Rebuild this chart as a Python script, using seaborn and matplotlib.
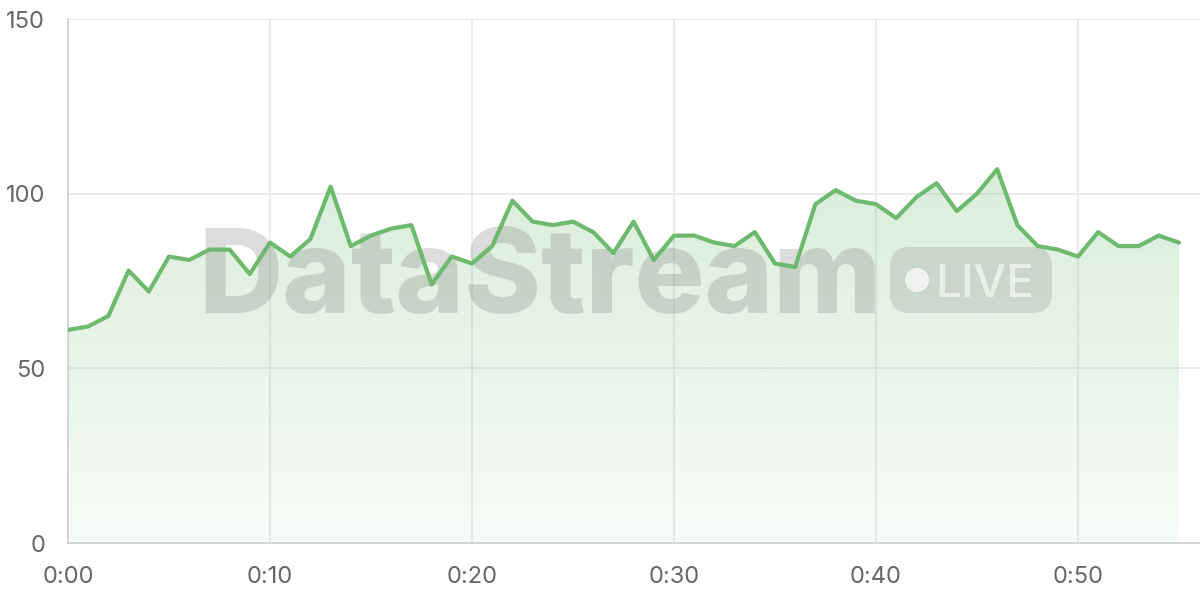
import numpy as np
import pandas as pd
import matplotlib
matplotlib.use("Agg")
import matplotlib.pyplot as plt
import matplotlib.transforms as mtransforms
from matplotlib.patches import FancyBboxPatch, Circle
from matplotlib.colors import to_rgb
import seaborn as sns

# ---------------------------------------------------------------------------
# Data
# ---------------------------------------------------------------------------
minutes = list(range(56))
values = [
    61, 62, 65, 78, 72, 82, 81, 84, 84, 77,
    86, 82, 87, 102, 85, 88, 90, 91, 74, 82,
    80, 85, 98, 92, 91, 92, 89, 83, 92, 81,
    88, 88, 86, 85, 89, 80, 79, 97, 101, 98,
    97, 93, 99, 103, 95, 100, 107, 91, 85, 84,
    82, 89, 85, 85, 88, 86,
]
x_ticks = [0, 10, 20, 30, 40, 50]
x_tick_labels = ["0:00", "0:10", "0:20", "0:30", "0:40", "0:50"]
y_ticks = [0, 50, 100, 150]

LINE = "#6dba6f"
GRID = "#e8e8e8"
AXIS = "#d0d0d0"
TEXT = "#666666"

df = pd.DataFrame({"minute": minutes, "value": values})

sns.set_theme(style="white")
plt.rcParams["font.family"] = ["Inter", "DejaVu Sans"]

fig = plt.figure(figsize=(12, 6), dpi=100)
ax = fig.add_axes([68 / 1200, 57 / 600, 1132 / 1200, 524 / 600])

# gradient fill under the line
poly = ax.fill_between(df["minute"], df["value"], 0, color="none", lw=0)
rgb = np.array(to_rgb(LINE))
ys = np.linspace(0, 1, 256)[:, None]
alpha = 0.05 + 0.22 * ys
img = np.zeros((256, 1, 4))
img[..., :3] = rgb
img[..., 3] = alpha
grad = ax.imshow(img, aspect="auto", origin="lower",
                 extent=[0, 55, 0, 112], zorder=1, interpolation="bilinear")
grad.set_clip_path(poly.get_paths()[0], transform=ax.transData)

# watermark in pixel coords (origin top-left)
px = mtransforms.Affine2D().scale(1 / 1200, -1 / 600).translate(0, 1) + fig.transFigure
ax.text(540, 313, "DataStream", transform=px, ha="center", va="baseline",
        fontsize=84, fontweight="heavy", color="#7a7a7a", alpha=0.26, zorder=2)
badge = FancyBboxPatch((890, 247), 162, 66, boxstyle="round,pad=0,rounding_size=20",
                       transform=px, facecolor="#7a7a7a", alpha=0.22,
                       edgecolor="none", zorder=2)
ax.add_patch(badge)
ax.add_patch(Circle((917, 280), 12, transform=px, facecolor="white",
                    alpha=0.7, edgecolor="none", zorder=2.1))
ax.text(985, 297, "LIVE", transform=px, ha="center", va="baseline",
        fontsize=33, fontweight="medium", color="white", alpha=0.6, zorder=2.1)

sns.lineplot(data=df, x="minute", y="value", ax=ax, color=LINE,
             linewidth=3, zorder=3)

ax.set_xlim(0, 56.04)
ax.set_ylim(0, 150)
ax.set_xticks(x_ticks)
ax.set_xticklabels(x_tick_labels)
ax.set_yticks(y_ticks)
ax.set_xlabel("")
ax.set_ylabel("")
ax.grid(True, color=GRID, linewidth=1.2)
ax.set_axisbelow(True)
for s in ["top", "right"]:
    ax.spines[s].set_visible(False)
for s in ["left", "bottom"]:
    ax.spines[s].set_color(AXIS)
    ax.spines[s].set_linewidth(1.2)
ax.tick_params(axis="both", length=11.5, width=1.2, color=GRID,
               labelsize=17, labelcolor=TEXT, pad=5)
ax.set_facecolor("white")

fig.savefig("out.png", dpi=100)
